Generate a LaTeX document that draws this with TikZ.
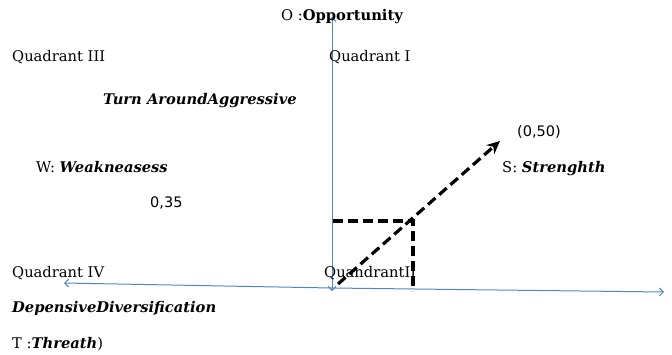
\documentclass[tikz,border=0pt]{standalone}
\usepackage{fontspec}
\setmainfont{DejaVu Serif}
\newfontfamily\numfont{DejaVu Sans}
\usetikzlibrary{arrows.meta}
\definecolor{axisblue}{RGB}{84,132,200}
\tikzset{
  lbl/.style={anchor=base west, inner sep=0pt, font=\fontsize{14.7}{17}\selectfont},
  numlbl/.style={anchor=base west, inner sep=0pt, font=\numfont\fontsize{14.5}{17}\selectfont},
  axis/.style={draw=axisblue, line width=1pt, -{Straight Barb[length=4pt,width=8pt]}},
  dashline/.style={draw=black, line width=3.2pt, dash pattern=on 10pt off 5pt}
}
\begin{document}
\begin{tikzpicture}[x=1pt,y=-1pt]
\useasboundingbox (0,0) rectangle (672,354);
% axes
\coordinate (vtop) at (332,17);
\coordinate (vbot) at (332,291);
\coordinate (hleft) at (64,283);
\coordinate (hright) at (664,292);
\coordinate (orig) at (332,288);
\draw[axis, {Straight Barb[length=4pt,width=8pt]}-{Straight Barb[length=4pt,width=8pt]}] (vbot) -- (vtop);
\draw[axis] (orig) -- (hleft);
\draw[axis] (orig) -- (hright);
% labels
\node[lbl] (opp) at (281,20) {O :\textbf{Opportunity}};
\node[lbl] (q3) at (12,61) {Quadrant III};
\node[lbl] (q1) at (329,61) {Quadrant I};
\node[lbl] (turn) at (103,104) {\textbf{\textit{Turn AroundAggressive}}};
\node[numlbl] (p50) at (517,136) {(0,50)};
\node[lbl] (weak) at (36,172) {W: \textbf{\textit{Weakneasess}}};
\node[lbl] (str) at (502,172) {S: \textbf{\textit{Strenghth}}};
\node[numlbl] (p35) at (150,207) {0,35};
\node[lbl] (q4) at (12,277) {Quadrant IV};
\node[lbl] (q2) at (324,277) {QuandrantII};
\node[lbl] (dep) at (12,312) {\textbf{\textit{DepensiveDiversification}}};
\node[lbl] (thr) at (12,348) {T :\textbf{\textit{Threath}})};
% position vector
\coordinate (vstart) at (338,284);
\coordinate (vend) at (500,141);
\coordinate (corner) at (413,221);
\coordinate (hdash) at (333,221);
\coordinate (vdash) at (413,291);
\draw[dashline] (hdash) -- (corner) -- (vdash);
\draw[dashline, -{Stealth[length=13pt,width=12pt]}] (vstart) -- (vend);
\end{tikzpicture}
\end{document}
